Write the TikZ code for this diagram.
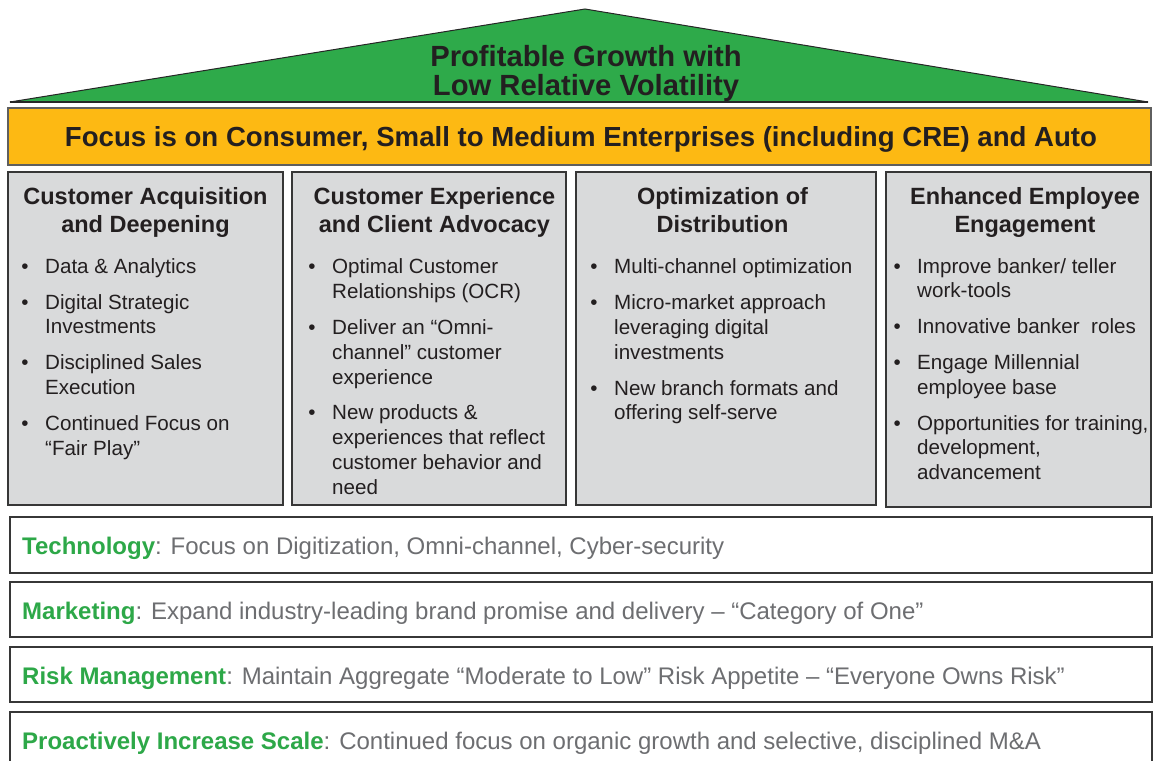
\documentclass[tikz,border=0pt]{standalone}
\usepackage{fontspec}
\setmainfont{Liberation Sans}
\definecolor{roofgreen}{RGB}{46,170,74}
\definecolor{bannergold}{RGB}{253,185,19}
\definecolor{pillargray}{RGB}{217,218,219}
\definecolor{inkdark}{RGB}{35,31,32}
\definecolor{labelgreen}{RGB}{45,168,72}
\definecolor{descgray}{RGB}{109,110,113}
\definecolor{edge}{RGB}{55,55,55}
\tikzset{
  pillar/.style={fill=pillargray, draw=edge, line width=1.8pt},
  band/.style={fill=white, draw=edge, line width=1.8pt},
  pillarhead/.style={anchor=base, align=center, text=inkdark, inner sep=0pt,
    font=\fontsize{23.5}{28}\selectfont\bfseries},
  bulletlist/.style={anchor=base west, align=left, text=inkdark, inner sep=0pt,
    font=\fontsize{20.6}{24.8}\selectfont},
  bandtext/.style={anchor=base west, inner sep=0pt,
    font=\fontsize{24}{28}\selectfont, text=descgray},
}
\newcommand{\bul}{\llap{\textbullet\hspace{16.5pt}}}
\newcommand{\gap}{\\[11pt]}
\begin{document}
\begin{tikzpicture}[x=1pt, y=-1pt]
\useasboundingbox (0,0) rectangle (1153,760);

% roof (multi-line nodes sit on the baseline of their last line)
\draw[fill=roofgreen, draw=black!85, line width=1pt, line join=miter]
  (10,102) -- (585,9) -- (1148,102) -- cycle;
\draw[black!85, line width=2.4pt] (10,102) -- (1148,102);
\node[anchor=base, align=center, text=inkdark, inner sep=0pt,
  font=\fontsize{29.2}{29}\selectfont\bfseries] (goal) at (586,95.5)
  {Profitable Growth with\\Low Relative Volatility};

% banner
\draw[fill=bannergold, draw=edge!80, line width=1.4pt] (8,108) rectangle (1151,165);
\node[anchor=base, inner sep=0pt, text=inkdark,
  font=\fontsize{27.6}{30}\selectfont\bfseries] (focus) at (581,146.5)
  {Focus is on Consumer, Small to Medium Enterprises (including CRE) and Auto};

% pillars
\draw[pillar] (8,172) rectangle (283,505);
\draw[pillar] (292,172) rectangle (566,505);
\draw[pillar] (576,172) rectangle (876,505);
\draw[pillar] (886,172) rectangle (1151,507);

\node[pillarhead] (h1) at (145.5,232) {Customer Acquisition\\and Deepening};
\node[pillarhead] (h2) at (434.5,232) {Customer Experience\\and Client Advocacy};
\node[pillarhead] (h3) at (722.5,232) {Optimization of\\Distribution};
\node[pillarhead] (h4) at (1025,232) {Enhanced Employee\\Engagement};

\node[bulletlist] (l1) at (45,455) {%
  \bul Data \& Analytics\gap
  \bul Digital Strategic\\Investments\gap
  \bul Disciplined Sales\\Execution\gap
  \bul Continued Focus on\\“Fair Play”};
\node[bulletlist] (l2) at (332,494.3) {%
  \bul Optimal Customer\\Relationships (OCR)\gap
  \bul Deliver an “Omni-\\channel” customer\\experience\gap
  \bul New products \&\\experiences that reflect\\customer behavior and\\need};
\node[bulletlist] (l3) at (614,419.9) {%
  \bul Multi-channel optimization\gap
  \bul Micro-market approach\\leveraging digital\\investments\gap
  \bul New branch formats and\\offering self-serve};
\node[bulletlist] (l4) at (917,479.7) {%
  \bul Improve banker/ teller\\work-tools\gap
  \bul Innovative banker\ \ roles\gap
  \bul Engage Millennial\\employee base\gap
  \bul Opportunities for training,\\development,\\advancement};

% foundation bands
\draw[band] (10,517) rectangle (1152,573);
\draw[band] (10,582) rectangle (1152,637);
\draw[band] (10,647) rectangle (1152,702);
\draw[band] (10,712) rectangle (1152,775);

\node[bandtext] (tech) at (22,554.5)
  {\textcolor{labelgreen}{\bfseries Technology}: Focus on Digitization, Omni-channel, Cyber-security};
\node[bandtext] (mkt) at (22,619)
  {\textcolor{labelgreen}{\bfseries Marketing}: Expand industry-leading brand promise and delivery – “Category of One”};
\node[bandtext] (risk) at (22,684)
  {\textcolor{labelgreen}{\bfseries Risk Management}: Maintain Aggregate “Moderate to Low” Risk Appetite – “Everyone Owns Risk”};
\node[bandtext] (scale) at (22,749)
  {\textcolor{labelgreen}{\bfseries Proactively Increase Scale}: Continued focus on organic growth and selective, disciplined M\&A};
\end{tikzpicture}
\end{document}
